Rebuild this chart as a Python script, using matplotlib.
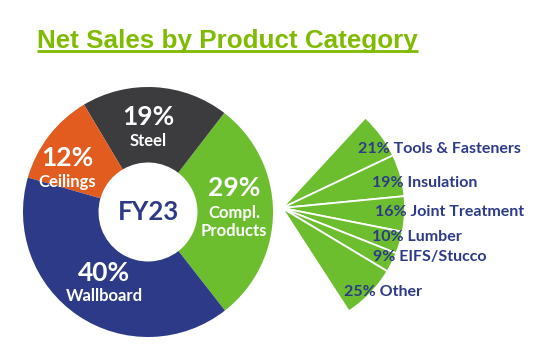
import matplotlib.pyplot as plt

W, H = 537, 349

# FY23 net sales split
categories = ["Compl.\nProducts", "Steel", "Ceilings", "Wallboard"]
shares = [29, 19, 12, 40]
cat_colors = ["#6dbe2f", "#3c3c3e", "#e25b1f", "#2c3a87"]

# breakdown of complementary products
sub_names = ["Tools & Fasteners", "Insulation", "Joint Treatment", "Lumber", "EIFS/Stucco", "Other"]
sub_shares = [21, 19, 16, 10, 9, 25]

green = "#6dbe2f"
navy = "#2c3a87"
title_green = "#7fbb00"

# label anchors in pixels from the top-left corner: (x, y of percent, y of name)
cat_label_pos = [(234, 188, 222), (148, 117, 141), (67, 158, 182), (104, 273, 296)]
sub_label_pos = [(358, 149), (372, 183), (375, 212), (372, 237), (373, 257), (344, 292)]

fig = plt.figure(figsize=(W / 100, H / 100), dpi=100)
ax = fig.add_axes([0, 0, 1, 1])

donut_c = (148, H - 212)
ax.pie(shares, colors=cat_colors, startangle=-52, counterclock=True,
       radius=125, center=donut_c,
       wedgeprops=dict(width=75.5, linewidth=0))

fan_c = (282, H - 208)
fan_frac = [s / 100 * shares[0] / 100 for s in sub_shares]
ax.pie(fan_frac, normalize=False, colors=[green] * len(sub_shares),
       startangle=47.3, counterclock=False, radius=123, center=fan_c,
       wedgeprops=dict(edgecolor="white", linewidth=1.3))

ax.set_xlim(0, W)
ax.set_ylim(0, H)
ax.axis("off")

lato = ["Lato", "DejaVu Sans"]
for name, val, (x, yp, yn) in zip(categories, shares, cat_label_pos):
    ax.text(x, H - yp, f"{val}%", ha="center", va="center", color="white",
            fontsize=19, fontweight="bold", family=lato)
    ax.text(x, H - yn, name, ha="center", va="center", color="white",
            fontsize=12, fontweight="bold", family=lato, linespacing=1.1)

ax.text(donut_c[0], donut_c[1], "FY23", ha="center", va="center", color=navy,
        fontsize=18.5, fontweight="bold", family=lato)

for name, val, (x, y) in zip(sub_names, sub_shares, sub_label_pos):
    ax.text(x, H - y, f"{val}% {name}", ha="left", va="center", color=navy,
            fontsize=11.5, fontweight="bold", family=lato)

title = ax.text(37, H - 48, "Net Sales by Product Category", ha="left",
                va="baseline", color=title_green, fontsize=18.7,
                fontweight="bold", family=["Liberation Sans", "DejaVu Sans"])

# underline the title
fig.canvas.draw()
bb = title.get_window_extent(fig.canvas.get_renderer())
ax.plot([bb.x0, bb.x1], [H - 51, H - 51], color=title_green, lw=2,
        solid_capstyle="butt")

fig.savefig("out.png", dpi=100)
